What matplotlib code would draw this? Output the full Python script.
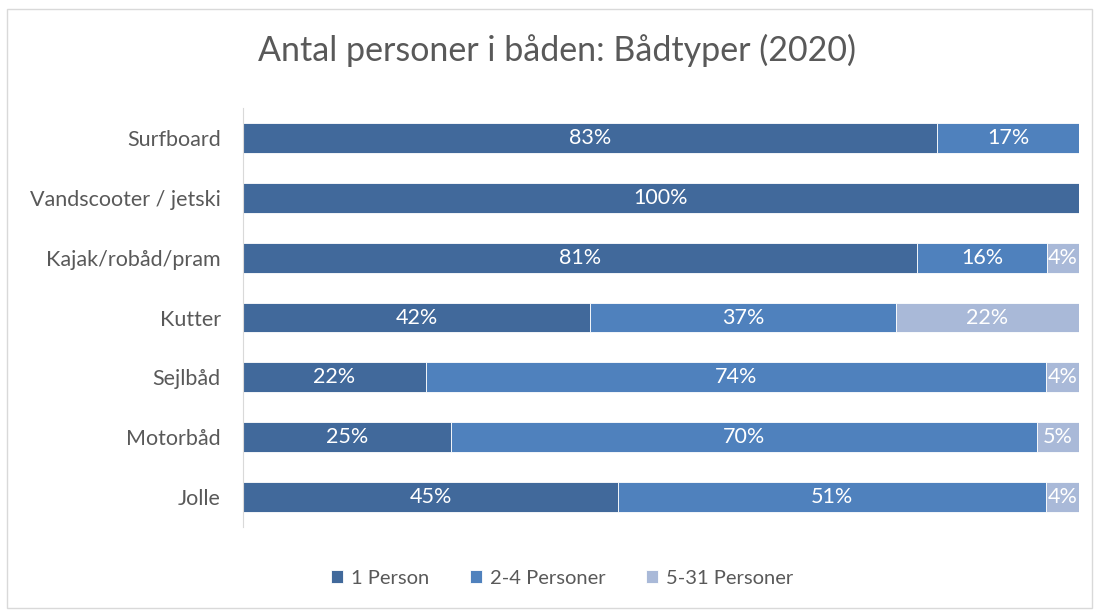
import numpy as np
import matplotlib.pyplot as plt
from matplotlib.patches import Rectangle

plt.rcParams['font.family'] = ['Lato', 'DejaVu Sans']

categories = ['Surfboard', 'Vandscooter / jetski', 'Kajak/robåd/pram', 'Kutter',
              'Sejlbåd', 'Motorbåd', 'Jolle']
one_person = [83.0, 100.0, 80.6, 41.5, 21.9, 24.9, 44.9]
two_four = [17.0, 0.0, 15.6, 36.6, 74.1, 70.1, 51.1]
five_31 = [0.0, 0.0, 3.8, 21.9, 4.0, 5.0, 4.0]
series_names = ['1 Person', '2-4 Personer', '5-31 Personer']
colors = ['#41699B', '#4F81BD', '#A9B9D8']

fig = plt.figure(figsize=(10.95, 6.11), dpi=100)
fig.patches.append(Rectangle((7 / 1095, 3 / 611), 1085 / 1095, 599 / 611,
                             transform=fig.transFigure, fill=False,
                             edgecolor='#D9D9D9', linewidth=1))
ax = fig.add_axes([243 / 1095, 1 - 527 / 611, 836 / 1095, 419 / 611])

y = np.arange(len(categories))
left = np.zeros(len(categories))
for vals, name, col in zip([one_person, two_four, five_31], series_names, colors):
    vals = np.array(vals)
    bars = ax.barh(y, vals, left=left, height=0.5, color=col, label=name,
                   edgecolor='white', linewidth=0.6)
    for b, v, l in zip(bars, vals, left):
        if v > 0:
            ax.text(l + v / 2, b.get_y() + b.get_height() / 2, f'{round(v):.0f}%',
                    ha='center', va='center', color='white', fontsize=15.5)
    left += vals

ax.set_xlim(0, 100)
ax.set_ylim(6.5, -0.5)
ax.set_yticks(y)
ax.set_yticklabels(categories, fontsize=15.5, color='#595959')
ax.set_xticks([])
ax.tick_params(axis='y', length=0, pad=16)
for s in ['top', 'right', 'bottom']:
    ax.spines[s].set_visible(False)
ax.spines['left'].set_color('#D9D9D9')

fig.text(557 / 1095, 1 - 50 / 611, 'Antal personer i båden: Bådtyper (2020)',
         ha='center', va='center', fontsize=24.5, color='#595959')

fig.legend(loc='center', bbox_to_anchor=(562 / 1095, 1 - 578 / 611), ncol=3,
           frameon=False, fontsize=14.5, labelcolor='#595959',
           handlelength=0.6, handleheight=0.6, handletextpad=0.4, columnspacing=2.0)

fig.savefig('out.png', dpi=100)
